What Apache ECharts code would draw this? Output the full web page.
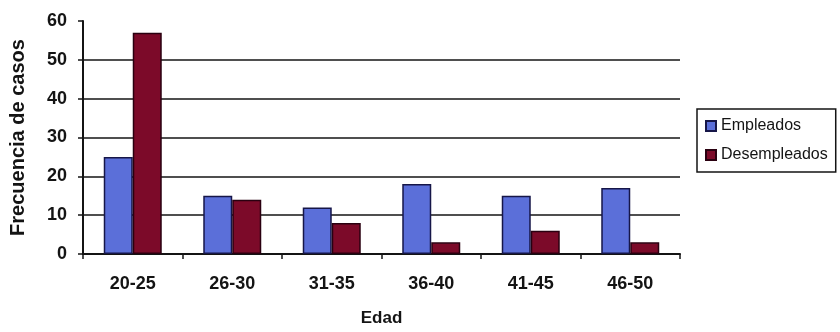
<!DOCTYPE html>
<html>
<head>
<meta charset="utf-8">
<script src="https://cdn.jsdelivr.net/npm/echarts@6/dist/echarts.min.js"></script>
<style>
  html, body { margin: 0; padding: 0; background: #ffffff; }
  #chart { width: 840px; height: 332px; }
</style>
</head>
<body>
<div id="chart"></div>
<script>
// Age groups and case counts per employment status
const categories = ['20-25', '26-30', '31-35', '36-40', '41-45', '46-50'];
const empleados = [25, 15, 12, 18, 15, 17];
const desempleados = [57, 14, 8, 3, 6, 3];
const yTicks = { min: 0, max: 60, interval: 10 };

const FONT = '"Liberation Sans", Arial, Helvetica, sans-serif';
const INK = '#141414';

const chart = echarts.init(document.getElementById('chart'), null, { renderer: 'canvas' });

chart.setOption({
  backgroundColor: '#ffffff',
  animation: false,
  grid: { left: 79, right: 160, top: 21, bottom: 72, containLabel: false },
  legend: {
    orient: 'vertical',
    left: 697,
    top: 109,
    padding: [9, 8, 9, 8],
    itemGap: 13,
    itemWidth: 10,
    itemHeight: 10,
    icon: 'rect',
    borderColor: INK,
    borderWidth: 1.5,
    textStyle: { fontFamily: FONT, fontSize: 16, color: INK }
  },
  xAxis: {
    type: 'category',
    data: categories,
    name: 'Edad',
    nameLocation: 'middle',
    nameGap: 56,
    nameTextStyle: { fontFamily: FONT, fontSize: 17, fontWeight: 'bold', color: INK },
    axisLine: { lineStyle: { color: INK, width: 2 } },
    axisTick: { show: true, alignWithLabel: false, length: 5, lineStyle: { color: INK, width: 1.5 } },
    axisLabel: { fontFamily: FONT, fontSize: 18, fontWeight: 'bold', color: INK, margin: 21 },
    splitLine: { show: false }
  },
  yAxis: {
    type: 'value',
    min: yTicks.min,
    max: yTicks.max,
    interval: yTicks.interval,
    name: 'Frecuencia de casos',
    nameLocation: 'middle',
    nameRotate: 90,
    nameGap: 55,
    nameTextStyle: { fontFamily: FONT, fontSize: 20, fontWeight: 'bold', color: INK },
    axisLine: { show: true, lineStyle: { color: INK, width: 2 } },
    axisTick: { show: true, length: 5, lineStyle: { color: INK, width: 1.5 } },
    axisLabel: { fontFamily: FONT, fontSize: 18, fontWeight: 'bold', color: INK, margin: 16 },
    splitLine: { show: true, showMaxLine: false, lineStyle: { color: INK, width: 1.5 } }
  },
  series: [
    {
      name: 'Empleados',
      type: 'bar',
      data: empleados,
      barWidth: 29,
      barGap: '0%',
      itemStyle: { color: '#5b6fd9', borderColor: '#161648', borderWidth: 1.5 }
    },
    {
      name: 'Desempleados',
      type: 'bar',
      data: desempleados,
      barWidth: 29,
      barGap: '0%',
      itemStyle: { color: '#7c0a29', borderColor: '#2a0010', borderWidth: 1.5 }
    }
  ]
});
</script>
</body>
</html>
